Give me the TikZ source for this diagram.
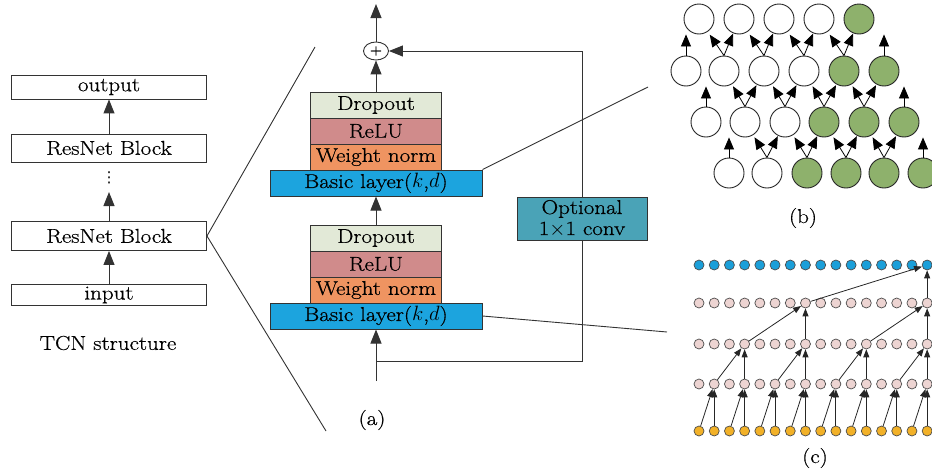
\documentclass[tikz,border=0pt]{standalone}
\usepackage{fontspec}
\setmainfont{Latin Modern Roman}[FakeStretch=1.15,FakeBold=0.6]
\newfontfamily\glyphfont{DejaVu Sans}
\usetikzlibrary{arrows.meta,calc,shapes.geometric}

\definecolor{linec}{HTML}{333333}
\definecolor{dropc}{HTML}{E2E9D7}
\definecolor{reluc}{HTML}{D08B8B}
\definecolor{wnc}{HTML}{EF9461}
\definecolor{basicc}{HTML}{1CA4DE}
\definecolor{optc}{HTML}{4AA3B7}
\definecolor{greenc}{HTML}{8EB16C}
\definecolor{dotblue}{HTML}{1B9FD9}
\definecolor{dotpink}{HTML}{EDD4D2}
\definecolor{dotyellow}{HTML}{F2B128}

\tikzset{
  txt/.style={font=\fontsize{20}{22}\selectfont},
  box/.style={draw=linec, line width=0.9pt, inner sep=0pt, minimum width=195pt, txt},
  layer/.style={draw=linec, line width=1pt, inner sep=0pt, minimum width=131pt, minimum height=26pt, txt},
  basic/.style={layer, fill=basicc, minimum width=212pt},
  arr/.style={draw=linec, line width=1pt, -{Triangle[length=14pt,width=11pt]}},
  ln/.style={draw=linec, line width=0.9pt},
  bnode/.style={circle, draw=black!85, line width=0.9pt, minimum size=30pt, inner sep=0pt, fill=white},
  bgreen/.style={bnode, fill=greenc},
  barr/.style={draw=black, line width=0.8pt, -{Triangle[length=12pt,width=10pt]}},
  cdot/.style={circle, draw=black!70, line width=0.7pt, minimum size=10pt, inner sep=0pt},
  carr/.style={draw=black!85, line width=0.8pt, -{Triangle[length=8pt,width=6pt]}},
}

\begin{document}
\begin{tikzpicture}[x=1pt,y=-1pt]
\useasboundingbox (0,0) rectangle (932,469);

% ---------- TCN structure (left column) ----------
\node[box, minimum height=24pt] (out) at (109,87) {output};
\node[box, minimum height=28pt] (rb1) at (109,148) {ResNet Block};
\node[font=\glyphfont\fontsize{15}{15}\selectfont, inner sep=0pt] (dots) at (109,178) {⋮};
\coordinate (dtip) at (109,192);
\node[box, minimum height=29pt] (rb2) at (109,236) {ResNet Block};
\node[box, minimum height=21pt] (inb) at (109,295) {input};
\draw[arr] (rb1.north) -- (out.south);
\draw[arr] (rb2.north) -- (dtip);
\draw[arr] (inb.north) -- (rb2.south);
\node[txt] (tcn) at (108,343) {TCN structure};

% ---------- ResNet block detail (a) ----------
\node[ellipse, draw=linec, line width=0.9pt, minimum width=25pt, minimum height=18pt,
      inner sep=0pt, font=\fontsize{14}{14}\selectfont] (plus) at (376,51) {+};
\coordinate (top) at (376,4);
\draw[arr] (plus.north) -- (top);

\node[layer, fill=dropc] (D1) at (376,105) {Dropout};
\node[layer, fill=reluc] (R1) at (376,131) {ReLU};
\node[layer, fill=wnc]   (W1) at (376,157) {Weight norm};
\node[basic] (BL1) at (376,183) {Basic layer($k$,$d$)};

\node[layer, fill=dropc] (D2) at (376,238) {Dropout};
\node[layer, fill=reluc] (R2) at (376,264) {ReLU};
\node[layer, fill=wnc]   (W2) at (376,290) {Weight norm};
\node[basic] (BL2) at (376,316) {Basic layer($k$,$d$)};

\draw[arr] (D1.north) -- (plus.south);
\draw[arr] (D2.north) -- (BL1.south);

% optional 1x1 convolution on the skip path
\node[draw=linec, line width=0.9pt, fill=optc, minimum width=130pt, minimum height=43pt,
      inner sep=0pt] (opt) at (582,218.5) {};
\node[txt, anchor=base, inner sep=0pt] (opt1) at (582,214) {Optional};
\node[txt, anchor=base, inner sep=0pt] (opt2) at (582,235) {1$\times$1 conv};

\coordinate (inp) at (376,381);
\coordinate (jn) at (376,361);
\draw[arr] (inp) -- (BL2.south);
\draw[ln] (jn) -| (opt.south);
\draw[arr] (opt.north) |- (plus.east);

\node[txt] (la) at (372,420) {(a)};

% zoom guide lines
\coordinate (za) at (315,47);
\coordinate (zb) at (326,431);
\coordinate (zc) at (648,87);
\coordinate (zd) at (667,332);
\draw[ln] (rb2.east) -- (za);
\draw[ln] (rb2.east) -- (zb);
\draw[ln] (BL1.north east) -- (zc);
\draw[ln] (BL2.east) -- (zd);

% ---------- receptive field (b) ----------
\foreach \x/\s [count=\i] in {699/bnode,739/bnode,779/bnode,819/bnode,859/bgreen}
  \node[\s] (b1-\i) at (\x,19) {};
\foreach \x/\s [count=\i] in {686/bnode,724/bnode,764/bnode,804/bnode,844/bgreen,884/bgreen}
  \node[\s] (b2-\i) at (\x,71) {};
\foreach \x/\s [count=\i] in {706/bnode,745/bnode,785/bnode,824/bgreen,864/bgreen,904/bgreen}
  \node[\s] (b3-\i) at (\x,122) {};
\foreach \x/\s [count=\i] in {729/bnode,767/bnode,807/bgreen,846/bgreen,884/bgreen,923/bgreen}
  \node[\s] (b4-\i) at (\x,173) {};

% row 2 -> row 1
\draw[barr] (b2-1.north) -- (b2-1.north |- b1-1.south);
\draw[barr] (b2-6.north) -- (b2-6.north |- b1-5.south);
\foreach \j in {2,...,5} {
  \pgfmathtruncatemacro\p{\j-1}
  \draw[barr] (b2-\j.north) -- ($(b2-\j.north)!0.57!(b1-\p.center)$);
  \draw[barr] (b2-\j.north) -- ($(b2-\j.north)!0.6!(b1-\j.center)$);
}
% row 3 -> row 2
\draw[barr] (b3-1.north) -- (b3-1.north |- b2-2.south);
\draw[barr] (b3-6.north) -- (b3-6.north |- b2-6.south);
\foreach \j in {2,...,5} {
  \pgfmathtruncatemacro\q{\j+1}
  \draw[barr] (b3-\j.north) -- ($(b3-\j.north)!0.57!(b2-\j.center)$);
  \draw[barr] (b3-\j.north) -- ($(b3-\j.north)!0.6!(b2-\q.center)$);
}
% row 4 -> row 3
\draw[barr] (b4-1.north) -- (b4-1.north |- b3-2.south);
\draw[barr] (b4-6.north) -- (b4-6.north |- b3-6.south);
\foreach \j in {2,...,5} {
  \pgfmathtruncatemacro\q{\j+1}
  \draw[barr] (b4-\j.north) -- ($(b4-\j.north)!0.57!(b3-\j.center)$);
  \draw[barr] (b4-\j.north) -- ($(b4-\j.north)!0.6!(b3-\q.center)$);
}
\node[txt] (lb) at (803,218) {(b)};

% ---------- dilated convolution (c) ----------
\foreach \r/\y/\c in {1/265/dotblue, 2/303/dotpink, 3/344/dotpink, 4/384/dotpink, 5/431/dotyellow}
  \foreach \i in {1,...,16}
    \node[cdot, fill=\c] (c\r-\i) at ({699+15.21*(\i-1)},\y) {};

\foreach \k in {1,...,8} {
  \pgfmathtruncatemacro\a{2*\k-1}
  \pgfmathtruncatemacro\b{2*\k}
  \draw[carr] (c5-\a) -- (c4-\b);
  \draw[carr] (c5-\b) -- (c4-\b);
}
\foreach \k in {1,...,4} {
  \pgfmathtruncatemacro\a{4*\k-2}
  \pgfmathtruncatemacro\b{4*\k}
  \draw[carr] (c4-\a) -- (c3-\b);
  \draw[carr] (c4-\b) -- (c3-\b);
}
\foreach \k in {1,2} {
  \pgfmathtruncatemacro\a{8*\k-4}
  \pgfmathtruncatemacro\b{8*\k}
  \draw[carr] (c3-\a) -- (c2-\b);
  \draw[carr] (c3-\b) -- (c2-\b);
}
\draw[carr] (c2-8) -- (c1-16);
\draw[carr] (c2-16) -- (c1-16);
\node[txt] (lc) at (815,458) {(c)};

\end{tikzpicture}
\end{document}
